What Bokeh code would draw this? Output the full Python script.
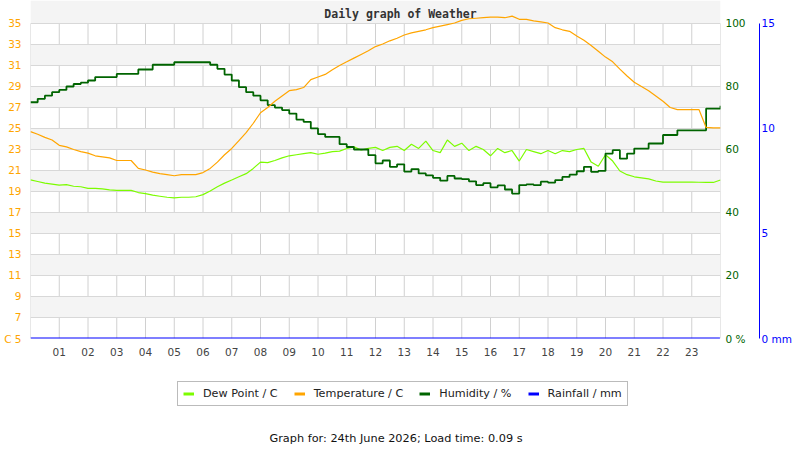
from bokeh.plotting import figure
from bokeh.layouts import column
from bokeh.models import Range1d, LinearAxis, FixedTicker, Legend, LegendItem, Label
from bokeh.embed import file_html
from bokeh.resources import INLINE

# readings every 15 minutes, 00:00 .. 24:00
hours = [i / 4 for i in range(97)]

temperature = [
    24.7, 24.45, 24.15, 23.9, 23.4, 23.25, 23.0, 22.8, 22.65, 22.4, 22.3, 22.2,
    21.95, 21.95, 21.95, 21.2, 21.05, 20.85, 20.7, 20.6, 20.5, 20.6, 20.6, 20.6,
    20.8, 21.2, 21.8, 22.5, 23.1, 23.85, 24.6, 25.5, 26.5, 27.0, 27.6, 28.1,
    28.6, 28.7, 28.9, 29.65, 29.9, 30.15, 30.6, 31.0, 31.35, 31.7, 32.05, 32.4,
    32.8, 33.05, 33.35, 33.6, 33.9, 34.1, 34.25, 34.4, 34.6, 34.75, 34.9, 35.05,
    35.3, 35.45, 35.5, 35.55, 35.6, 35.6, 35.55, 35.7, 35.4, 35.4, 35.25, 35.15,
    35.05, 34.6, 34.4, 34.25, 33.8, 33.4, 32.9, 32.35, 31.8, 31.35, 30.65, 30.0,
    29.4, 29.0, 28.6, 28.1, 27.6, 27.0, 26.8, 26.8, 26.8, 26.8, 25.1, 25.05,
    25.05,
]

dew_point = [
    20.1, 19.95, 19.8, 19.7, 19.6, 19.65, 19.5, 19.45, 19.3, 19.3, 19.25, 19.15,
    19.1, 19.1, 19.1, 18.9, 18.8, 18.65, 18.55, 18.45, 18.4, 18.45, 18.45, 18.5,
    18.7, 19.05, 19.45, 19.8, 20.1, 20.4, 20.7, 21.2, 21.8, 21.75, 21.95, 22.2,
    22.4, 22.5, 22.6, 22.7, 22.55, 22.65, 22.8, 22.85, 23.1, 23.25, 22.95, 23.1,
    23.2, 22.9, 23.2, 23.3, 22.9, 23.5, 23.1, 23.8, 22.9, 22.7, 23.9, 23.3,
    23.6, 22.9, 23.3, 23.0, 22.4, 23.1, 22.7, 22.9, 21.9, 23.0, 22.8, 22.6,
    22.9, 22.6, 22.9, 22.8, 23.0, 23.1, 21.8, 21.4, 22.5, 21.9, 20.95, 20.6,
    20.4, 20.3, 20.2, 20.0, 19.9, 19.9, 19.9, 19.9, 19.9, 19.88, 19.86, 19.86,
    20.1,
]

humidity = [
    75.0, 76.1, 77.1, 78.2, 78.9, 80.0, 80.8, 81.2, 81.9, 83.0, 83.0, 83.0,
    84.0, 84.0, 84.0, 85.4, 85.4, 86.9, 86.9, 86.9, 87.7, 87.7, 87.7, 87.7,
    87.7, 86.9, 85.6, 83.8, 81.9, 79.8, 78.2, 77.1, 75.6, 74.1, 73.3, 72.5,
    71.4, 69.5, 68.8, 66.7, 64.9, 64.0, 64.0, 61.7, 60.8, 60.0, 60.0, 58.2,
    55.6, 56.5, 54.5, 55.3, 53.0, 53.8, 52.4, 51.8, 51.0, 50.1, 51.6, 50.8,
    50.6, 49.9, 48.7, 49.3, 48.0, 48.6, 47.3, 46.0, 48.7, 48.9, 48.7, 49.8,
    49.5, 50.3, 51.3, 52.0, 53.1, 54.5, 52.9, 53.2, 58.7, 59.8, 57.1, 58.7,
    60.3, 60.3, 61.9, 61.9, 64.6, 64.6, 66.1, 66.1, 66.1, 66.1, 73.0, 73.0,
    73.9,
]

rain_hours = [0.0, 23.98]
rainfall = [0.0, 0.0]

hour_ticks = list(range(1, 24))
hour_labels = ["01", "02", "03", "04", "05", "06", "07", "08", "09", "10", "11", "12",
               "13", "14", "15", "16", "17", "18", "19", "20", "21", "22", "23"]
grid_hours = list(range(25))
temp_ticks = [5, 7, 9, 11, 13, 15, 17, 19, 21, 23, 25, 27, 29, 31, 33, 35]
hum_ticks = [0, 20, 40, 60, 80, 100]
rain_ticks = [0, 5, 10, 15]

ORANGE = "#FFA500"
DEW = "#7CFC00"
HUM = "#006400"
RAIN = "#0000FF"
FONT = "DejaVu Sans"

p = figure(width=800, height=365, x_range=Range1d(0, 24), y_range=Range1d(5, 37.19),
           output_backend="svg", toolbar_location=None,
           min_border_left=30, min_border_right=80, min_border_top=0, min_border_bottom=27)
p.outline_line_color = None
p.background_fill_color = "white"
p.extra_y_ranges = {"hum": Range1d(0, 107.3), "rain": Range1d(0, 16.095)}

# grid: horizontal lines every 2 C with alternating bands, vertical lines each hour
p.xgrid.visible = False
p.ygrid.ticker = FixedTicker(ticks=temp_ticks)
p.ygrid.grid_line_color = "#d8d8d8"
p.ygrid.band_fill_color = "#f4f4f4"
p.ygrid.band_fill_alpha = 1.0
p.segment(x0=grid_hours, y0=temp_ticks[0], x1=grid_hours, y1=temp_ticks[-1],
          line_color="#d0d0d0", line_width=1, level="underlay")

# axes
p.xaxis.ticker = FixedTicker(ticks=hour_ticks)
p.xaxis.major_label_overrides = dict(zip(hour_ticks, hour_labels))
p.xaxis.axis_line_color = None
p.xaxis.major_tick_line_color = None
p.xaxis.minor_tick_line_color = None
p.xaxis.major_tick_out = 0
p.xaxis.major_label_standoff = 9
p.xaxis.major_label_text_color = "#444444"
p.xaxis.major_label_text_font = FONT
p.xaxis.major_label_text_font_size = "10.5px"

p.yaxis.ticker = FixedTicker(ticks=temp_ticks)
p.yaxis.major_label_overrides = {5: "C 5"}
p.yaxis.axis_line_color = None
p.yaxis.major_tick_line_color = None
p.yaxis.minor_tick_line_color = None
p.yaxis.major_tick_out = 0
p.yaxis.major_label_standoff = 9
p.yaxis.major_label_text_color = ORANGE
p.yaxis.major_label_text_font = FONT
p.yaxis.major_label_text_font_size = "10.5px"

hum_axis = LinearAxis(y_range_name="hum", ticker=FixedTicker(ticks=hum_ticks),
                      major_label_overrides={0: "0 %"},
                      axis_line_color=None, major_tick_line_color=None,
                      minor_tick_line_color=None, major_tick_out=0, major_tick_in=0,
                      major_label_standoff=5, major_label_text_color=HUM,
                      major_label_text_font=FONT, major_label_text_font_size="10.5px",
                      axis_label=" ", axis_label_standoff=1,
                      axis_label_text_font_size="7px")
p.add_layout(hum_axis, "right")

rain_axis = LinearAxis(y_range_name="rain", ticker=FixedTicker(ticks=rain_ticks),
                       major_label_overrides={0: "0  mm"},
                       bounds=(0, 15), axis_line_color=RAIN, axis_line_width=1,
                       major_tick_line_color=None, minor_tick_line_color=None,
                       major_tick_out=0, major_tick_in=0, major_label_standoff=2,
                       major_label_text_color=RAIN, major_label_text_font=FONT,
                       major_label_text_font_size="10.5px")
p.add_layout(rain_axis, "right")

# series
r_dew = p.line(hours, dew_point, line_color=DEW, line_width=1.2)
r_hum = p.step(hours, humidity, mode="after", line_color=HUM, line_width=1.8,
               y_range_name="hum")
r_temp = p.line(hours, temperature, line_color=ORANGE, line_width=1.2)
r_rain = p.line(rain_hours, rainfall, line_color=RAIN, line_width=2, y_range_name="rain")

p.add_layout(Label(x=370, y=325, x_units="screen", y_units="screen",
                   text="Daily graph of Weather", text_align="center", text_baseline="middle",
                   text_font="DejaVu Sans Mono", text_font_style="bold",
                   text_font_size="11.5px", text_color="#333333"))

# strip under the chart holding the legend and the footer line
f = figure(width=800, height=85, x_range=Range1d(0, 1), y_range=Range1d(0, 1),
           output_backend="svg", toolbar_location=None, x_axis_location=None,
           y_axis_location=None, min_border=0)
f.outline_line_color = None
f.grid.visible = False

# swatch renderers for the legend (a single NaN point, nothing is drawn)
nan = float("nan")
k_dew = f.line([nan], [nan], line_color=DEW, line_width=3)
k_temp = f.line([nan], [nan], line_color=ORANGE, line_width=3)
k_hum = f.line([nan], [nan], line_color=HUM, line_width=3)
k_rain = f.line([nan], [nan], line_color=RAIN, line_width=3)

legend = Legend(items=[
    LegendItem(label="Dew Point / C", renderers=[k_dew]),
    LegendItem(label="Temperature / C", renderers=[k_temp]),
    LegendItem(label="Humidity / %", renderers=[k_hum]),
    LegendItem(label="Rainfall / mm", renderers=[k_rain]),
], orientation="horizontal", location=(147, 44), margin=0, padding=5,
    spacing=16, glyph_width=11, glyph_height=13, label_height=13, label_standoff=9,
    label_text_font=FONT, label_text_font_size="11.2px", label_text_color="#222222",
    border_line_color="#777777", border_line_width=1, background_fill_color="white")
f.add_layout(legend)

f.add_layout(Label(x=365.5, y=12, x_units="screen", y_units="screen",
                   text="Graph for: 24th June 2026; Load time: 0.09 s",
                   text_align="center", text_baseline="middle", text_font=FONT,
                   text_font_size="11.3px", text_color="#111111"))

open("out.html", "w").write(file_html(column(p, f), INLINE))
